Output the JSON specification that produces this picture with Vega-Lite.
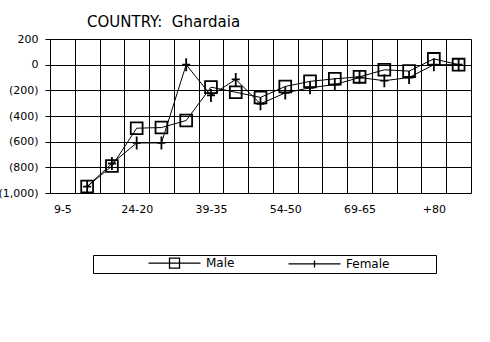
{
  "$schema": "https://vega.github.io/schema/vega-lite/v6.json",
  "width": 421,
  "height": 154,
  "autosize": {"type": "none"},
  "padding": {"left": 50, "top": 39, "right": 19, "bottom": 149},
  "background": "white",
  "title": {
    "text": "COUNTRY:\u00a0 Ghardaia",
    "anchor": "start",
    "frame": "group",
    "dx": 37,
    "dy": 22,
    "offset": 13,
    "baseline": "alphabetic",
    "font": "DejaVu Sans",
    "fontSize": 15,
    "fontWeight": "normal",
    "color": "black"
  },
  "data": {
    "values": [
      {"i": 1, "age": "14-10", "sex": "Male", "value": -950},
      {"i": 2, "age": "19-15", "sex": "Male", "value": -790},
      {"i": 3, "age": "24-20", "sex": "Male", "value": -495},
      {"i": 4, "age": "29-25", "sex": "Male", "value": -490},
      {"i": 5, "age": "34-30", "sex": "Male", "value": -435},
      {"i": 6, "age": "39-35", "sex": "Male", "value": -175},
      {"i": 7, "age": "44-40", "sex": "Male", "value": -215},
      {"i": 8, "age": "49-45", "sex": "Male", "value": -255},
      {"i": 9, "age": "54-50", "sex": "Male", "value": -170},
      {"i": 10, "age": "59-55", "sex": "Male", "value": -130},
      {"i": 11, "age": "64-60", "sex": "Male", "value": -110},
      {"i": 12, "age": "69-65", "sex": "Male", "value": -95},
      {"i": 13, "age": "74-70", "sex": "Male", "value": -40},
      {"i": 14, "age": "79-75", "sex": "Male", "value": -50},
      {"i": 15, "age": "+80", "sex": "Male", "value": 45},
      {"i": 16, "age": "Unknown", "sex": "Male", "value": 0},
      {"i": 1, "age": "14-10", "sex": "Female", "value": -950},
      {"i": 2, "age": "19-15", "sex": "Female", "value": -770},
      {"i": 3, "age": "24-20", "sex": "Female", "value": -610},
      {"i": 4, "age": "29-25", "sex": "Female", "value": -610},
      {"i": 5, "age": "34-30", "sex": "Female", "value": 0},
      {"i": 6, "age": "39-35", "sex": "Female", "value": -240},
      {"i": 7, "age": "44-40", "sex": "Female", "value": -115},
      {"i": 8, "age": "49-45", "sex": "Female", "value": -305},
      {"i": 9, "age": "54-50", "sex": "Female", "value": -220},
      {"i": 10, "age": "59-55", "sex": "Female", "value": -180},
      {"i": 11, "age": "64-60", "sex": "Female", "value": -155},
      {"i": 12, "age": "69-65", "sex": "Female", "value": -100},
      {"i": 13, "age": "74-70", "sex": "Female", "value": -125},
      {"i": 14, "age": "79-75", "sex": "Female", "value": -100},
      {"i": 15, "age": "+80", "sex": "Female", "value": 0},
      {"i": 16, "age": "Unknown", "sex": "Female", "value": 0}
    ]
  },
  "encoding": {
    "x": {
      "field": "age",
      "type": "nominal",
      "sort": null,
      "title": null,
      "scale": {
        "type": "band",
        "domain": ["9-5", "14-10", "19-15", "24-20", "29-25", "34-30", "39-35", "44-40", "49-45", "54-50", "59-55", "64-60", "69-65", "74-70", "79-75", "+80", "Unknown"],
        "paddingInner": 0,
        "paddingOuter": 0
      },
      "axis": {
        "tickBand": "extent",
        "ticks": false,
        "domain": false,
        "grid": true,
        "gridColor": "black",
        "gridOpacity": 1,
        "gridWidth": 1,
        "labelAngle": 0,
        "labelPadding": 10,
        "labelFont": "DejaVu Sans",
        "labelFontSize": 11,
        "labelColor": "black",
        "labelExpr": "indexof(['9-5','24-20','39-35','54-50','69-65','+80'], datum.label) >= 0 ? datum.label : ''"
      }
    },
    "y": {
      "field": "value",
      "type": "quantitative",
      "title": null,
      "scale": {"domain": [-1000, 200], "nice": false, "zero": false},
      "axis": {
        "values": [-1000, -800, -600, -400, -200, 0, 200],
        "domain": false,
        "ticks": true,
        "tickSize": 5,
        "tickColor": "black",
        "grid": true,
        "gridColor": "black",
        "gridOpacity": 1,
        "gridWidth": 1,
        "labelPadding": 7,
        "labelFont": "DejaVu Sans",
        "labelFontSize": 11,
        "labelColor": "black",
        "labelExpr": "datum.value < 0 ? '(' + format(-datum.value, ',') + ')' : format(datum.value, ',') + '\u00a0'"
      }
    }
  },
  "layer": [
    {
      "mark": {"type": "line", "strokeWidth": 1},
      "encoding": {
        "order": {"field": "i", "type": "quantitative"},
        "color": {
          "field": "sex",
          "type": "nominal",
          "scale": {"domain": ["Male", "Female"], "range": ["black", "black"]},
          "legend": {
            "orient": "none",
            "legendX": 43,
            "legendY": 216,
            "direction": "horizontal",
            "title": null,
            "padding": 2,
            "strokeColor": "black",
            "labelFont": "DejaVu Sans",
            "labelFontSize": 12,
            "labelColor": "black",
            "symbolSize": 100,
            "symbolOffset": 73.5,
            "labelOffset": 25.5,
            "columnPadding": 0,
            "labelExpr": "datum.label == 'Female' ? 'Female\u2800\u2800\u2800\u2800\u2800' : datum.label",
            "encode": {
              "symbols": {
                "update": {
                  "shape": {"signal": "datum.value == 'Male' ? 'M-5.2,0H5.2M-1,-1H1V1H-1Z' : 'M-5.2,0H5.2M0,-0.7V0.7'"},
                  "fill": {"value": "transparent"},
                  "stroke": {"value": "black"},
                  "strokeWidth": {"value": 1.3},
                  "strokeDash": {"value": []}
                }
              }
            }
          }
        }
      }
    },
    {
      "transform": [{"filter": "datum.sex == 'Male'"}],
      "mark": {"type": "point", "shape": "square", "size": 140, "filled": false, "stroke": "black", "strokeWidth": 1.8, "opacity": 1}
    },
    {
      "transform": [{"filter": "datum.sex == 'Female'"}],
      "mark": {"type": "point", "shape": "M-0.62,0H0.62M0,-1V1", "size": 169, "filled": false, "stroke": "black", "strokeWidth": 1.8, "opacity": 1}
    }
  ],
  "config": {
    "view": {"stroke": null}
  }
}
